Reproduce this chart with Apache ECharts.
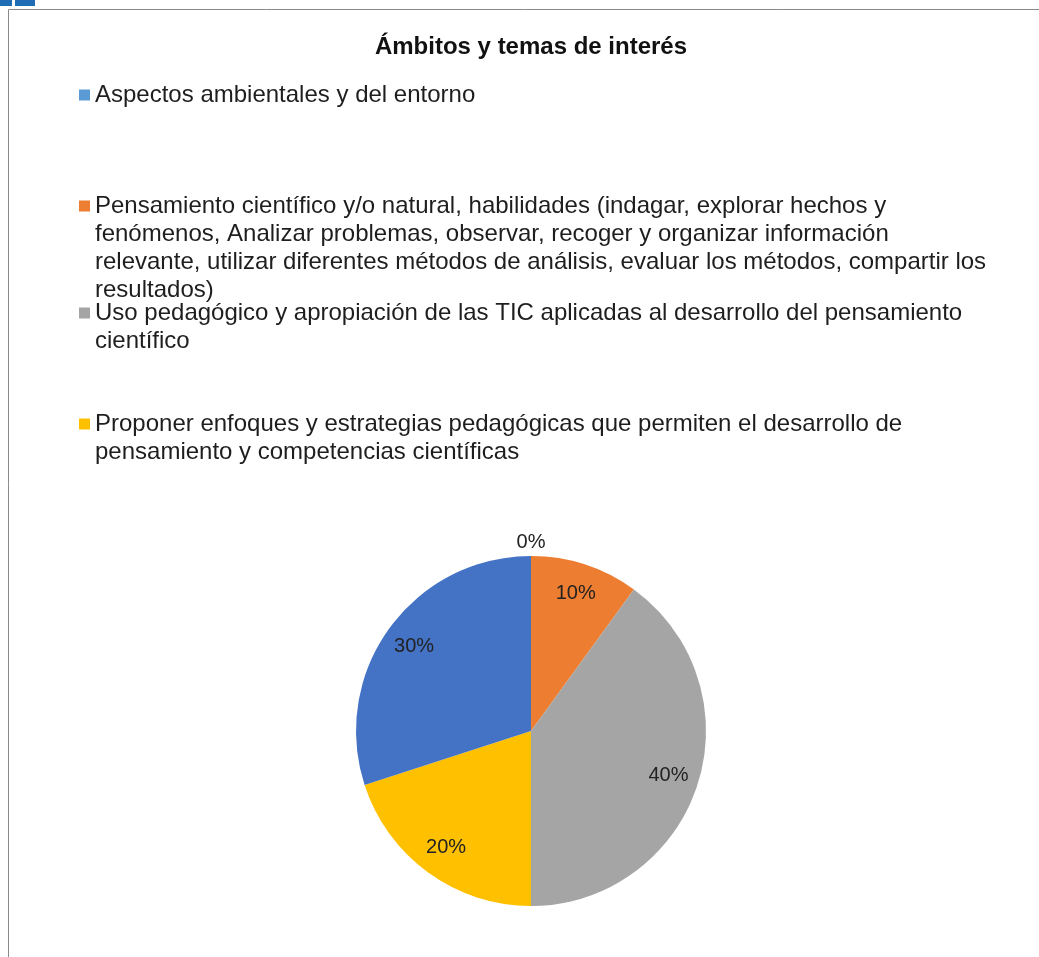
<!DOCTYPE html>
<html lang="es">
<head>
<meta charset="utf-8">
<title>Ámbitos y temas de interés</title>
<script src="https://cdn.jsdelivr.net/npm/echarts@6/dist/echarts.min.js"></script>
<style>
  html, body { margin: 0; padding: 0; background: #ffffff; }
  #chart { width: 1039px; height: 957px; }
</style>
</head>
<body>
<div id="chart"></div>
<script>
// Survey topics and their share of responses (percent)
const categories = [
  'Aspectos ambientales y del entorno',
  'Pensamiento científico y/o natural, habilidades (indagar, explorar hechos y fenómenos, Analizar problemas, observar, recoger y organizar información relevante, utilizar diferentes métodos de análisis, evaluar los métodos, compartir los resultados)',
  'Uso pedagógico y apropiación de las TIC aplicadas al desarrollo del pensamiento científico',
  'Proponer enfoques y estrategias pedagógicas que permiten el desarrollo de pensamiento y competencias científicas',
  'Otros'
];
const percentages = [0, 10, 40, 20, 30];
const sliceColors = ['#5B9BD5', '#ED7D31', '#A5A5A5', '#FFC000', '#4472C4'];

// Wrapped legend text, one entry per legend row
const legendLabels = [
  ['Aspectos ambientales y del entorno'],
  ['Pensamiento científico y/o natural, habilidades (indagar, explorar hechos y',
   'fenómenos, Analizar problemas, observar, recoger y organizar información',
   'relevante, utilizar diferentes métodos de análisis, evaluar los métodos, compartir los',
   'resultados)'],
  ['Uso pedagógico y apropiación de las TIC aplicadas al desarrollo del pensamiento',
   'científico'],
  ['Proponer enfoques y estrategias pedagógicas que permiten el desarrollo de',
   'pensamiento y competencias científicas']
];
const legendIconCenters = [95, 206, 313, 424];

const FONT = '"Liberation Sans", Arial, sans-serif';
const LINE_H = 28;

const slices = categories.map((name, i) => ({
  name: name,
  value: percentages[i],
  itemStyle: { color: sliceColors[i] }
}));

// One legend block per category so each row keeps its own slot.
// Leading blank lines keep the marker level with the first text line.
const legends = legendLabels.map((lines, i) => {
  const n = lines.length;
  return {
    orient: 'vertical',
    left: 79,
    top: legendIconCenters[i] - (2 * n - 1) * LINE_H / 2,
    padding: 0,
    icon: 'rect',
    itemWidth: 11,
    itemHeight: 11,
    selectedMode: false,
    data: [categories[i]],
    formatter: () => '\n'.repeat(n - 1) + lines.join('\n'),
    textStyle: {
      fontFamily: FONT,
      fontSize: 24,
      lineHeight: LINE_H,
      color: '#1e1e1e'
    }
  };
});

const chart = echarts.init(document.getElementById('chart'), null, { renderer: 'canvas' });

chart.setOption({
  backgroundColor: '#ffffff',
  animation: false,
  title: {
    text: 'Ámbitos y temas de interés',
    left: 531,
    top: 35,
    padding: 0,
    textAlign: 'center',
    textStyle: {
      fontFamily: FONT,
      fontSize: 24,
      fontWeight: 'bold',
      color: '#111111'
    }
  },
  legend: legends,
  graphic: [
    // chart frame
    {
      type: 'rect',
      silent: true,
      shape: { x: 8.5, y: 9.5, width: 1200, height: 1200 },
      style: { fill: 'none', stroke: '#8a8a8a', lineWidth: 1 }
    },
    // page header logo fragment
    { type: 'rect', silent: true, shape: { x: 0, y: 0, width: 12, height: 6 }, style: { fill: '#1f6db5' } },
    { type: 'rect', silent: true, shape: { x: 15, y: 0, width: 20, height: 6 }, style: { fill: '#1f6db5' } }
  ],
  series: [
    {
      name: 'Ámbitos',
      type: 'pie',
      center: [531, 731],
      radius: [0, 175],
      startAngle: 90,
      clockwise: true,
      avoidLabelOverlap: false,
      silent: true,
      label: { show: false },
      labelLine: { show: false },
      itemStyle: { borderWidth: 0 },
      data: slices
    },
    {
      // transparent ring that carries the percentage labels
      name: 'Etiquetas',
      type: 'pie',
      center: [531, 731],
      radius: [108, 175],
      startAngle: 90,
      clockwise: true,
      avoidLabelOverlap: false,
      silent: true,
      itemStyle: { color: 'rgba(0,0,0,0)', borderWidth: 0 },
      label: {
        show: true,
        position: 'inside',
        formatter: '{c}%',
        fontFamily: FONT,
        fontSize: 20,
        color: '#222222'
      },
      labelLine: { show: false },
      labelLayout: function (p) {
        // the empty slice puts its label just above the pie
        return p.dataIndex === 0 ? { dy: -44 } : {};
      },
      emphasis: { disabled: true },
      data: percentages.map((v, i) => ({ name: categories[i], value: v }))
    }
  ]
});
</script>
</body>
</html>
